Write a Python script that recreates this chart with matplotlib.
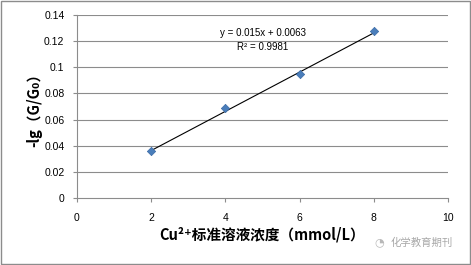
import numpy as np
import matplotlib
matplotlib.use('Agg')
import matplotlib.pyplot as plt

plt.rcParams['font.family'] = ['Liberation Sans', 'Noto Sans CJK SC', 'DejaVu Sans']
cjk = ['Noto Sans CJK SC', 'DejaVu Sans']

conc = [2, 4, 6, 8]
neg_lg = [0.036, 0.0688, 0.0948, 0.1275]
slope = 0.015
intercept = 0.0063
eq_text = 'y = 0.015x + 0.0063'
r2_text = 'R² = 0.9981'
x_ticks = [0, 2, 4, 6, 8, 10]
y_ticks = [0, 0.02, 0.04, 0.06, 0.08, 0.1, 0.12, 0.14]
y_tick_labels = ['0', '0.02', '0.04', '0.06', '0.08', '0.1', '0.12', '0.14']

fig = plt.figure(figsize=(4.71, 2.65), dpi=100)
ax = fig.add_axes([77 / 471, 1 - 198 / 265, 371 / 471, 183 / 265])

# grid lines
for yv in y_ticks[1:]:
    ax.axhline(yv, color='#8c8c8c', lw=0.8, zorder=0)

# trendline
xs = np.array([conc[0], conc[-1]])
ax.plot(xs, slope * xs + intercept, color='black', lw=0.8, zorder=2)
ax.scatter(conc, neg_lg, marker='D', s=18, color='#4a7ebb', edgecolors='#3a6aa5',
           linewidths=0.5, zorder=3)

ax.text(5, 0.1265, eq_text, ha='center', va='center', fontsize=7)
ax.text(5, 0.1155, r2_text, ha='center', va='center', fontsize=7)

ax.set_xlim(0, 10)
ax.set_ylim(0, 0.14)
ax.set_xticks(x_ticks)
ax.set_yticks(y_ticks)
ax.set_yticklabels(y_tick_labels)
ax.tick_params(labelsize=7.5, length=3, width=0.8, color='#8c8c8c', pad=6)
ax.tick_params(axis='x', pad=8)
for side in ['top', 'right']:
    ax.spines[side].set_visible(False)
for side in ['left', 'bottom']:
    ax.spines[side].set_color('#8c8c8c')
    ax.spines[side].set_linewidth(0.8)

ax.set_xlabel('Cu²⁺标准溶液浓度（mmol/L）', fontsize=10.5, fontweight='bold',
              labelpad=2, family=cjk)
ax.set_ylabel('-lg（G/G₀）', fontsize=10.5, fontweight='bold', labelpad=1, family=cjk)

fig.text(0.962, 0.085, '化学教育期刊', ha='right', va='center', fontsize=7.5,
         color='#a8a8a8', family=cjk)
fig.text(0.815, 0.085, '◔', ha='right', va='center', fontsize=8, color='#b8b8b8',
         family=['DejaVu Sans'])

# outer border
fig.patches.append(plt.Rectangle((0.002, 0.004), 0.996, 0.992, transform=fig.transFigure,
                                 fill=False, edgecolor='#8c8c8c', lw=1))

fig.savefig('out.png', dpi=100)
